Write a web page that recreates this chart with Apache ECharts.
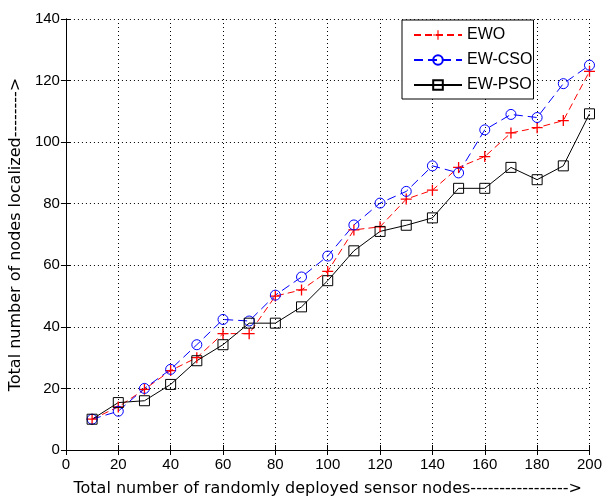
<!DOCTYPE html>
<html>
<head>
<meta charset="utf-8">
<script src="https://cdn.jsdelivr.net/npm/echarts@6/dist/echarts.min.js"></script>
<style>html,body{margin:0;padding:0;background:#fff;}#c{width:605px;height:502px;}</style>
</head>
<body>
<div id="c"></div>
<script>
const xValues = [10,20,30,40,50,60,70,80,90,100,110,120,130,140,150,160,170,180,190,200];
const ewo =    [10,14,19.7,25.8,30,37.8,37.8,50,52,58,71.5,72.5,81.5,84.4,91.8,95.3,103,104.7,107,123];
const ewCso =  [10,12.6,20,26.2,34.2,42.4,41.9,50.3,56.2,63,73.1,80.2,84,92.3,90,104,109,108,119,125];
const ewPso =  [10,15.4,16,21.3,29,34.2,41.2,41.2,46.5,55,64.7,71,73,75.4,85,85,91.8,87.8,92.3,109.2];
const seriesNames = ['EWO','EW-CSO','EW-PSO'];
const xTitle = 'Total number of randomly deployed sensor nodes----------------->';
const yTitle = 'Total number of nodes localized-------->';

const FONT = 'Liberation Sans, Arial, sans-serif';
const TFONT = 'DejaVu Sans, sans-serif';
const pair = arr => xValues.map((x,i)=>[x,arr[i]]);
const plus = 'path://M4.4,0H5.6V4.4H10V5.6H5.6V10H4.4V5.6H0V4.4H4.4Z';

const chart = echarts.init(document.getElementById('c'), null, {renderer:'canvas'});
const baseAxis = {
  axisLine:{show:true,lineStyle:{color:'#000',width:1}},
  axisTick:{show:true,inside:true,length:5,lineStyle:{color:'#000'}},
  splitLine:{show:false},
  axisLabel:{show:false}
};
chart.setOption({
  animation:false,
  backgroundColor:'#fff',
  grid:{left:65,right:12,top:19,bottom:48,containLabel:false},
  legend:{
    orient:'vertical', left:402, top:20,
    data:seriesNames,
    itemWidth:48, itemHeight:12, itemGap:9,
    padding:[7,1,6,11],
    borderColor:'#000', borderWidth:1, backgroundColor:'#fff',
    textStyle:{fontFamily:FONT,fontSize:16,color:'#000'}
  },
  xAxis:[{
    type:'value', min:0, max:200, interval:20, position:'bottom',
    axisLine:{show:true,lineStyle:{color:'#000',width:1}},
    axisTick:{show:true,inside:true,length:5,lineStyle:{color:'#000'}},
    axisLabel:{color:'#000',fontFamily:FONT,fontSize:15,margin:7},
    splitLine:{show:true,lineStyle:{color:'#000',type:[1,3],width:1}},
    name:xTitle, nameLocation:'middle', nameGap:31,
    nameTextStyle:{fontFamily:TFONT,fontSize:16,color:'#000'}
  },{
    type:'value', min:0, max:200, interval:20, position:'top', ...baseAxis
  }],
  yAxis:[{
    type:'value', min:0, max:140, interval:20, position:'left',
    axisLine:{show:true,lineStyle:{color:'#000',width:1}},
    axisTick:{show:true,inside:true,length:5,lineStyle:{color:'#000'}},
    axisLabel:{color:'#000',fontFamily:FONT,fontSize:15,margin:6},
    splitLine:{show:true,lineStyle:{color:'#000',type:[1,3],width:1}},
    name:yTitle, nameLocation:'middle', nameGap:40,
    nameTextStyle:{fontFamily:TFONT,fontSize:16,color:'#000'}
  },{
    type:'value', min:0, max:140, interval:20, position:'right', ...baseAxis
  }],
  series:[{
    name:seriesNames[0], type:'line', data:pair(ewo),
    symbol:plus, symbolSize:11,
    itemStyle:{color:'#ff0000'},
    lineStyle:{color:'#ff0000',width:1,type:[7,4]}
  },{
    name:seriesNames[1], type:'line', data:pair(ewCso),
    symbol:'circle', symbolSize:10,
    itemStyle:{color:'rgba(0,0,0,0)',borderColor:'#0000ff',borderWidth:1},
    lineStyle:{color:'#0000ff',width:1,type:[9,5]}
  },{
    name:seriesNames[2], type:'line', data:pair(ewPso),
    symbol:'rect', symbolSize:10,
    itemStyle:{color:'rgba(0,0,0,0)',borderColor:'#000',borderWidth:1},
    lineStyle:{color:'#000',width:1,type:'solid'}
  }]
});
</script>
</body>
</html>
